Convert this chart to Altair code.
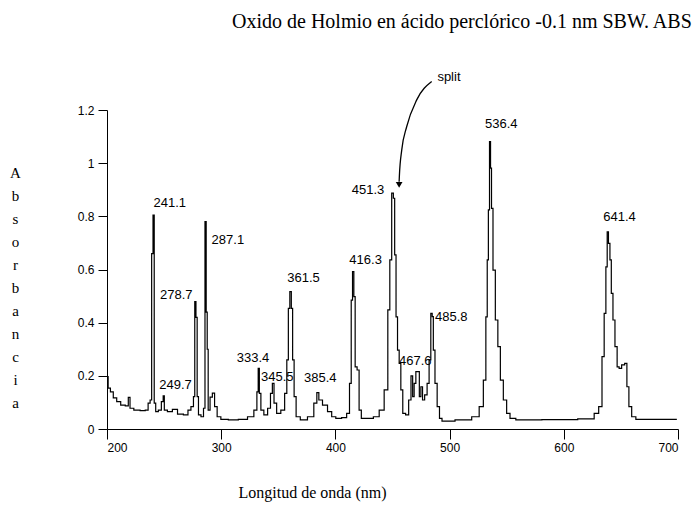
import altair as alt
import pandas as pd

wavelength = [200, 202, 204, 207, 210, 214, 218, 219.3, 221, 226, 232, 235, 237, 238.5, 239.7, 240.9, 241.8,
              243.5, 246.4, 248.8, 249.6, 250.8, 255, 259.5, 264, 269.8, 272, 275, 276.4, 277.3, 278.5, 279.4,
              280.8, 283.8, 285.2, 286.4, 287.3, 288.2, 289, 291.5, 293, 295.4, 297.5, 301.9, 310.6, 319.4,
              326.7, 330.5, 332, 332.8, 334, 335.5, 339.2, 342.1, 344.2, 345.4, 347.1, 350, 354.4, 356.7,
              358.2, 359.4, 360.8, 362, 363.1, 364.6, 366.6, 371.9, 379.2, 383, 384.5, 386.5, 390.9, 395.3,
              398.2, 402.5, 408.4, 411.3, 413.4, 414.3, 415.7, 416.6, 418, 420, 421.5, 423.9, 430.3, 436.2,
              440.5, 444.9, 446.9, 448.4, 450.2, 451.3, 452.5, 453.7, 455.1, 456.6, 458, 460, 463, 465.3,
              467.1, 468.2, 469.7, 471.2, 472.9, 474.1, 475.6, 477, 479.3, 481.3, 482.8, 484.3, 485.2, 486.3,
              488.1, 490.1, 492.2, 494.5, 515, 523.7, 528.1, 531, 532.5, 533.4, 534.5, 535.4, 536.3, 537.1,
              538.9, 541.2, 543.3, 545.6, 548.5, 551.4, 554.4, 561.6, 600, 624.4, 628.8, 632.3, 634.6, 636.1,
              637.6, 638.4, 639.8, 641, 642.2, 643.9, 645.7, 647.7, 649.2, 652.1, 654.5, 656, 658, 660.9,
              665.3, 699]
absorbance = [0.197, 0.154, 0.14, 0.117, 0.103, 0.09, 0.087, 0.119, 0.078, 0.071, 0.069, 0.071, 0.097, 0.109,
              0.66, 0.805, 0.097, 0.065, 0.071, 0.103, 0.125, 0.071, 0.065, 0.074, 0.056, 0.053, 0.071, 0.084,
              0.122, 0.479, 0.42, 0.122, 0.053, 0.046, 0.078, 0.78, 0.44, 0.3, 0.071, 0.12, 0.135, 0.084,
              0.046, 0.036, 0.034, 0.036, 0.046, 0.071, 0.14, 0.228, 0.134, 0.071, 0.053, 0.078, 0.134, 0.172,
              0.097, 0.059, 0.071, 0.134, 0.26, 0.454, 0.517, 0.454, 0.26, 0.122, 0.046, 0.034, 0.046, 0.097,
              0.137, 0.109, 0.09, 0.065, 0.046, 0.04, 0.043, 0.059, 0.172, 0.485, 0.592, 0.498, 0.234, 0.222,
              0.071, 0.04, 0.04, 0.046, 0.071, 0.147, 0.448, 0.636, 0.887, 0.868, 0.655, 0.422, 0.297, 0.247,
              0.147, 0.059, 0.053, 0.109, 0.2, 0.122, 0.172, 0.216, 0.216, 0.122, 0.159, 0.109, 0.128, 0.172,
              0.26, 0.435, 0.423, 0.297, 0.172, 0.084, 0.04, 0.03, 0.034, 0.046, 0.084, 0.184, 0.422, 0.636,
              0.824, 1.081, 0.981, 0.83, 0.598, 0.41, 0.31, 0.184, 0.109, 0.059, 0.04, 0.034, 0.035, 0.038,
              0.059, 0.084, 0.272, 0.435, 0.61, 0.742, 0.698, 0.636, 0.51, 0.41, 0.31, 0.234, 0.228, 0.241,
              0.247, 0.159, 0.084, 0.046, 0.036, 0.036]

peak_labels = ["241.1", "249.7", "278.7", "287.1", "333.4", "345.5", "361.5", "385.4", "416.3", "451.3",
               "467.6", "485.8", "536.4", "641.4", "split"]
label_wl = [240.7, 245.8, 246.4, 291.6, 313.6, 334.9, 357.9, 372.5, 412.2, 414.3, 455.7, 487.2, 531, 634.6, 489.3]
label_abs = [0.85, 0.166, 0.504, 0.71, 0.266, 0.197, 0.567, 0.19, 0.636, 0.9, 0.257, 0.423, 1.147, 0.796, 1.323]

arrow_wl = [484.3, 471.2, 462.4, 458.1, 456.0, 455.8]
arrow_abs = [1.307, 1.238, 1.137, 1.05, 0.95, 0.93]
head_wl = [455.8]
head_abs = [0.918]

spec = pd.DataFrame({"wl": wavelength, "a": absorbance})
labels = pd.DataFrame({"wl": label_wl, "a": label_abs, "t": peak_labels})
arrow = pd.DataFrame({"wl": arrow_wl, "a": arrow_abs, "o": list(range(len(arrow_wl)))})
head = pd.DataFrame({"wl": head_wl, "a": head_abs})

x_scale = alt.Scale(domain=[200, 700], nice=False, zero=False)
y_scale = alt.Scale(domain=[0, 1.2], nice=False)

x_axis = alt.Axis(values=[200, 300, 400, 500, 600, 700], tickSize=10, labelFontSize=12, labelPadding=3,
                  labelFont="Liberation Sans", labelColor="black", domainColor="black", tickColor="black",
                  grid=False, title="Longitud de onda (nm)", titleFont="Liberation Serif", titleFontSize=16,
                  titleFontWeight="normal", titleColor="black", titleX=205, titleY=63, titleAlign="center",
                  titleBaseline="middle")
y_axis = alt.Axis(values=[0, 0.2, 0.4, 0.6, 0.8, 1, 1.2], format="~g", tickSize=9, labelFontSize=12,
                  labelPadding=4, labelFont="Liberation Sans", labelColor="black", domainColor="black",
                  tickColor="black", grid=False,
                  title=["A", "b", "s", "o", "r", "b", "a", "n", "c", "i", "a"], titleAngle=0,
                  titleFont="Liberation Serif", titleFontSize=15, titleFontWeight="normal", titleColor="black",
                  titleLineHeight=23, titleX=-92, titleY=62, titleAlign="center", titleBaseline="middle")

line = alt.Chart(spec).mark_line(color="black", strokeWidth=1.2, interpolate="step").encode(
    x=alt.X("wl:Q", scale=x_scale, axis=x_axis),
    y=alt.Y("a:Q", scale=y_scale, axis=y_axis),
)

text = alt.Chart(labels).mark_text(align="left", baseline="middle", font="Liberation Sans", fontSize=13,
                                   color="black").encode(x="wl:Q", y="a:Q", text="t:N")

arr = alt.Chart(arrow).mark_line(color="black", strokeWidth=1.3, interpolate="monotone").encode(
    x="wl:Q", y="a:Q", order="o:Q")

tip = alt.Chart(head).mark_point(shape="triangle-down", filled=True, color="black", size=45, opacity=1).encode(
    x="wl:Q", y="a:Q")

chart = alt.layer(line, text, arr, tip).properties(
    width=571, height=319,
    autosize=alt.AutoSizeParams(type="none"),
    padding={"left": 107, "top": 110, "right": 18, "bottom": 85},
    title=alt.TitleParams("Oxido de Holmio en ácido perclórico -0.1 nm SBW. ABS", font="Liberation Serif",
                          fontSize=20, fontWeight="normal", color="black", anchor="start", frame="group",
                          dx=125, offset=23, baseline="alphabetic"),
).configure_view(stroke=None)

chart.save("out.html", embed_options={"renderer": "svg", "actions": False})
